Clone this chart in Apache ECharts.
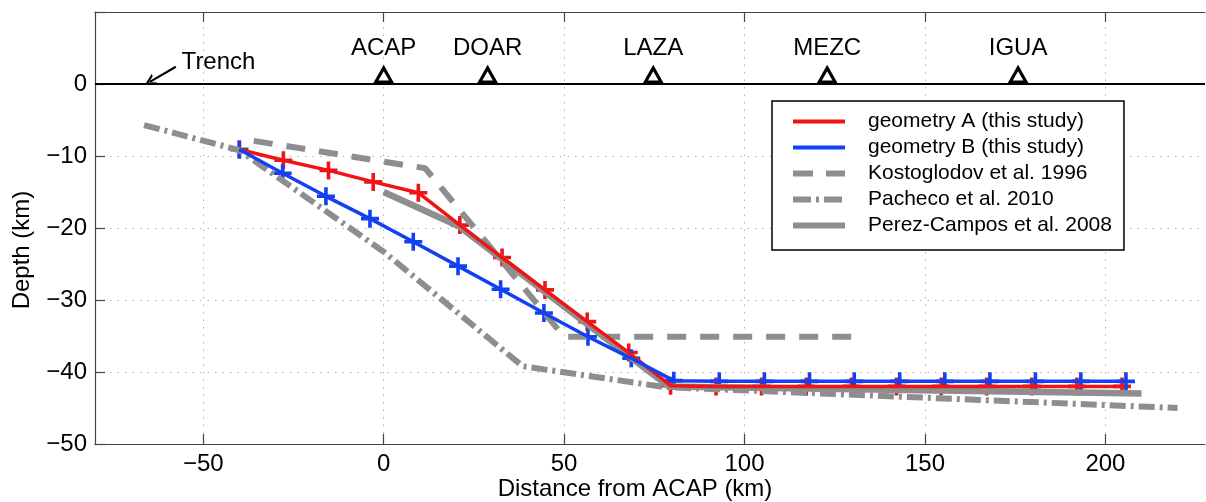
<!DOCTYPE html>
<html lang="en">
<head>
<meta charset="UTF-8">
<title>slab geometry</title>
<style>
    html, body { margin: 0; padding: 0; background: #fff; }
    #chart { width: 1206px; height: 502px; }
</style>
</head>
<body>
<div id="chart"></div>
<script src="https://cdn.jsdelivr.net/npm/echarts@6/dist/echarts.min.js"></script>
<script>
    // tick values
    var xTicks = [-50, 0, 50, 100, 150, 200];

    // geometry A (red)
    var xA = [-40, -27.8, -15.3, -2.9, 9.6, 21.1, 32.8, 44.7, 56.4, 67.9, 79.5, 92.1, 104.7, 117.1, 129.6, 142.1, 154.5, 167.1, 179.6, 192.1, 204.6];
    var yA = [-9.1, -10.6, -12.0, -13.6, -15.1, -19.6, -24.1, -28.6, -33.0, -37.3, -41.9, -42.0, -42.0, -42.0, -42.0, -42.0, -42.0, -42.0, -42.0, -42.0, -42.0];

    // geometry B (blue)
    var xB = [-40, -28.0, -16.0, -3.8, 8.2, 20.6, 32.4, 44.4, 56.6, 68.6, 80.4, 93.0, 105.5, 118.0, 130.4, 143.0, 155.5, 168.0, 180.6, 193.2, 205.7];
    var yB = [-9.1, -12.4, -15.6, -18.7, -21.9, -25.3, -28.5, -31.8, -35.1, -38.1, -41.2, -41.3, -41.3, -41.3, -41.3, -41.3, -41.3, -41.3, -41.3, -41.3, -41.3];

    // published models (gray)
    var xKost = [-36, 11.5, 50, 133];
    var yKost = [-7.9, -11.7, -35.1, -35.1];
    var xPach = [-66.4, -40, 0, 38.5, 78, 220];
    var yPach = [-5.7, -9.2, -23.3, -39.2, -42.1, -45.0];
    var xPere = [0, 21, 79, 210];
    var yPere = [-15.0, -19.8, -42.0, -43.0];

    // stations
    var stations = ['ACAP', 'DOAR', 'LAZA', 'MEZC', 'IGUA'];
    var stationX = [0, 28.8, 74.7, 122.9, 175.8];

    var FONT = '"Liberation Sans", Arial, Helvetica, sans-serif';
    var GRAY = '#8e8e8e';
    var RED = '#f01414';
    var BLUE = '#1441f0';
    var PLUS = 'path://M7.2,0 H10.8 V7.2 H18 V10.8 H10.8 V18 H7.2 V10.8 H0 V7.2 H7.2 Z';
    var CHEVRON = 'path://M5,0 L10,10 L8,10 L5,3.8 L2,10 L0,10 Z';

    var KOST_DASH = [19, 14];
    var PACH_DASH = [16, 5, 3, 5];

    function pairs(xs, ys) {
        var out = [];
        for (var i = 0; i < xs.length; i++) out.push([xs[i], ys[i]]);
        return out;
    }
    function minus(v) { return String(v).replace('-', '\u2212'); }

    var chart = echarts.init(document.getElementById('chart'));

    var option = {
        animation: false,
        backgroundColor: '#fff',
        textStyle: { fontFamily: FONT },
        grid: { left: 95, right: 1, top: 12, bottom: 58 },
        legend: {
            data: [
                { name: 'geometry A (this study)', lineStyle: { width: 4 } },
                { name: 'geometry B (this study)', lineStyle: { width: 4 } },
                { name: 'Kostoglodov et al. 1996', lineStyle: { width: 6, type: [20, 13] } },
                { name: 'Pacheco et al. 2010', lineStyle: { width: 6, type: [18, 5, 3, 5] } },
                { name: 'Perez-Campos et al. 2008', lineStyle: { width: 6 } }
            ],
            orient: 'vertical',
            left: 772,
            top: 101,
            itemWidth: 52,
            itemHeight: 14,
            itemGap: 5,
            padding: [10, 12, 14, 18],
            borderColor: '#000',
            borderWidth: 1.5,
            backgroundColor: '#fff',
            selectedMode: false,
            itemStyle: { opacity: 0 },
            textStyle: { fontFamily: FONT, fontSize: 21, color: '#000', lineHeight: 21, padding: [0, 0, 0, 18] }
        },
        xAxis: [{
            type: 'value',
            min: -80,
            max: 227.6,
            axisLine: { show: true, onZero: false, lineStyle: { color: '#444', width: 1.2 } },
            axisTick: { show: true, inside: true, length: 10, customValues: xTicks, lineStyle: { color: '#444', width: 1.2 } },
            axisLabel: { customValues: xTicks, margin: 8, fontSize: 24, color: '#000', fontFamily: FONT, formatter: minus },
            splitLine: { show: true, lineStyle: { color: '#b0b0b0', type: [1.5, 6], width: 1 } }
        }, {
            type: 'value',
            position: 'top',
            min: -80,
            max: 227.6,
            axisLine: { show: true, onZero: false, lineStyle: { color: '#444', width: 1.2 } },
            axisTick: { show: true, inside: true, length: 10, customValues: xTicks, lineStyle: { color: '#444', width: 1.2 } },
            axisLabel: { show: false },
            splitLine: { show: false }
        }],
        yAxis: [{
            type: 'value',
            min: -50,
            max: 10,
            interval: 10,
            axisLine: { show: true, onZero: false, lineStyle: { color: '#444', width: 1.2 } },
            axisTick: { show: true, inside: true, length: 10, lineStyle: { color: '#444', width: 1.2 } },
            axisLabel: {
                margin: 8, fontSize: 24, color: '#000', fontFamily: FONT,
                formatter: function (v) { return v === 10 ? '' : minus(v); }
            },
            splitLine: { show: true, lineStyle: { color: '#b0b0b0', type: [1.5, 6], width: 1 } }
        }],
        graphic: [{
            type: 'text',
            x: 22, y: 250,
            rotation: Math.PI / 2,
            style: { text: 'Depth (km)', font: '24px ' + FONT, fill: '#000', align: 'center', verticalAlign: 'middle' }
        }, {
            type: 'text',
            x: 635, y: 489,
            style: { text: 'Distance from ACAP (km)', font: '24px ' + FONT, fill: '#000', align: 'center', verticalAlign: 'middle' }
        }],
        series: [{
            name: 'surface',
            type: 'line',
            data: [[-80, 0], [227.6, 0]],
            symbol: 'none',
            silent: true,
            lineStyle: { color: '#000', width: 2 }
        }, {
            name: 'Kostoglodov et al. 1996',
            type: 'line',
            data: pairs(xKost, yKost),
            symbol: 'none',
            itemStyle: { color: GRAY },
            lineStyle: { color: GRAY, width: 6, type: KOST_DASH, cap: 'butt' }
        }, {
            name: 'Pacheco et al. 2010',
            type: 'line',
            data: pairs(xPach, yPach),
            symbol: 'none',
            itemStyle: { color: GRAY },
            lineStyle: { color: GRAY, width: 6, type: PACH_DASH, cap: 'butt' }
        }, {
            name: 'Perez-Campos et al. 2008',
            type: 'line',
            data: pairs(xPere, yPere),
            symbol: 'none',
            itemStyle: { color: GRAY },
            lineStyle: { color: GRAY, width: 6.5 }
        }, {
            name: 'geometry A (this study)',
            type: 'line',
            data: pairs(xA, yA),
            symbol: 'none',
            itemStyle: { color: RED },
            lineStyle: { color: RED, width: 3.5 }
        }, {
            name: 'geometry B (this study)',
            type: 'line',
            data: pairs(xB, yB),
            symbol: 'none',
            itemStyle: { color: BLUE },
            lineStyle: { color: BLUE, width: 3.5 }
        }, {
            name: 'A nodes',
            type: 'scatter',
            data: pairs(xA, yA),
            symbol: PLUS,
            symbolSize: 18,
            itemStyle: { color: RED, opacity: 1 }
        }, {
            name: 'B nodes',
            type: 'scatter',
            data: pairs(xB, yB),
            symbol: PLUS,
            symbolSize: 18,
            itemStyle: { color: BLUE, opacity: 1 }
        }, {
            name: 'stations',
            type: 'scatter',
            data: stations.map(function (s, i) { return { name: s, value: [stationX[i], 0] }; }),
            symbol: 'triangle',
            symbolSize: [16, 14],
            symbolOffset: [0, -9],
            itemStyle: { color: '#fff', borderColor: '#000', borderWidth: 3, opacity: 1 },
            label: { show: true, position: 'top', distance: 6, formatter: '{b}', fontSize: 24, color: '#000', fontFamily: FONT },
            z: 5
        }, {
            name: 'trench',
            type: 'scatter',
            data: [{ name: 'Trench', value: [-56.0, 3.0] }],
            symbol: 'circle',
            symbolSize: 0,
            itemStyle: { color: '#000', opacity: 1 },
            label: { show: true, position: 'right', distance: 0, formatter: '{b}', fontSize: 24, color: '#000', fontFamily: FONT },
            markLine: {
                silent: true,
                symbol: ['none', CHEVRON],
                symbolSize: [12, 11],
                label: { show: false },
                lineStyle: { color: '#000', width: 2.2, type: 'solid', opacity: 1 },
                data: [[{ coord: [-57.6, 2.4] }, { coord: [-64.8, 0.3] }]]
            }
        }]
    };

    chart.setOption(option);
</script>
</body>
</html>
